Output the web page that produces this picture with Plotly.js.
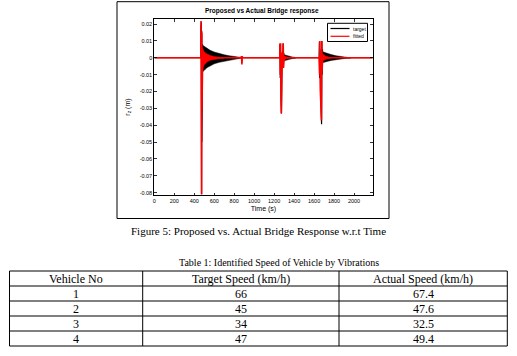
<!DOCTYPE html>
<html>
<head>
<meta charset="utf-8">
<script src="https://cdn.plot.ly/plotly-3.0.1.min.js"></script>
<style>html,body{margin:0;padding:0;background:#fff;}#chart{width:517px;height:356px;}</style>
</head>
<body>
<div id="chart"></div>
<script>
// ---- Chart data ----
// target (black) spikes / baseline
const targetT = [0, 465, 467, 469, 471, 473, 475, 477, 479, 481, 483, 485,
  870, 873, 876, 879, 882,
  1255, 1258, 1261, 1265, 1269, 1273, 1277, 1281, 1286, 1290, 1293, 1296, 1300,
  1650, 1653, 1656, 1660, 1665, 1670, 1675, 1678, 1681, 1684, 1688, 2187];
const targetV = [0, 0, 0.018, -0.078, 0.021, -0.081, 0.016, -0.05, 0.012, -0.02, 0.008, 0,
  0, 0.0008, -0.003, 0.0005, 0,
  0, 0.008, -0.012, 0.004, -0.025, -0.033, -0.012, 0.003, -0.006, 0.0085, -0.005, 0.003, 0,
  0, 0.0095, -0.012, 0.005, -0.02, -0.03, -0.0394, 0.0099, -0.01, 0.005, 0, 0];
// target decaying oscillation envelopes
const tBand1T = [483, 495, 510, 530, 560, 600, 650, 700, 750, 800, 840, 870];
const tBand1Up = [0.0075, 0.0070, 0.0062, 0.0054, 0.0044, 0.0034, 0.0025, 0.0018, 0.0012, 0.0008, 0.0005, 0.0002];
const tBand1Lo = [-0.0085, -0.0078, -0.0068, -0.0058, -0.0047, -0.0036, -0.0027, -0.0019, -0.0013, -0.0009, -0.0005, -0.0002];
const tBand2T = [1300, 1320, 1350, 1380, 1420];
const tBand2Up = [0.0018, 0.0014, 0.0009, 0.0005, 0.0001];
const tBand2Lo = [-0.0018, -0.0014, -0.0009, -0.0005, -0.0001];
const tBand3T = [1684, 1700, 1730, 1770, 1820, 1870, 1920, 1970];
const tBand3Up = [0.0036, 0.0032, 0.0026, 0.0019, 0.0012, 0.0007, 0.0004, 0.0001];
const tBand3Lo = [-0.0030, -0.0027, -0.0022, -0.0016, -0.0010, -0.0006, -0.0003, -0.0001];

// fitted (red) spikes / baseline
const fittedT = [0, 466, 468, 470, 472, 474, 476, 478, 480, 482, 484,
  871, 874, 877, 880, 883,
  1256, 1259, 1262, 1265, 1268, 1272, 1276, 1280, 1285, 1291, 1294, 1297, 1300,
  1650, 1652, 1655, 1658, 1663, 1668, 1674, 1677, 1680, 1683, 1686, 2187];
const fittedV = [0, 0, 0.0218, -0.081, 0.0215, -0.081, 0.015, -0.03, 0.006, -0.004, 0,
  0, 0.001, -0.004, 0.001, 0,
  0, 0.0086, -0.01, 0.0086, -0.02, -0.0331, -0.015, 0.003, -0.004, 0.0086, -0.006, 0.0086, 0,
  0, 0.0099, -0.01, 0.0099, -0.02, -0.03, -0.037, 0.0099, -0.008, 0.0099, 0, 0];
const fBand1T = [480, 490, 500, 515, 535, 560, 600, 650, 700];
const fBand1Up = [0.006, 0.0045, 0.0036, 0.0027, 0.0019, 0.0013, 0.0008, 0.0004, 0.0002];
const fBand1Lo = [-0.0075, -0.0055, -0.0042, -0.0031, -0.0022, -0.0015, -0.0009, -0.0005, -0.0002];
const fBand2T = [1298, 1310, 1330, 1360];
const fBand2Up = [0.0012, 0.0008, 0.0004, 0.0001];
const fBand2Lo = [-0.0012, -0.0008, -0.0004, -0.0001];
const fBand3T = [1682, 1695, 1715, 1740, 1770];
const fBand3Up = [0.0025, 0.0018, 0.0011, 0.0006, 0.0002];
const fBand3Lo = [-0.0022, -0.0015, -0.0010, -0.0005, -0.0002];

// axis ticks
const xTicks = [0, 200, 400, 600, 800, 1000, 1200, 1400, 1600, 1800, 2000];
const yTicks = [0.02, 0.01, 0, -0.01, -0.02, -0.03, -0.04, -0.05, -0.06, -0.07, -0.08];
const yTickText = ["0.02", "0.01", "0", "-0.01", "-0.02", "-0.03", "-0.04", "-0.05", "-0.06", "-0.07", "-0.08"];
const seriesNames = ["target", "fitted"];
const seriesColors = ["#000000", "#ff0000"];

// ---- Table data ----
const tableHeader = ["Vehicle No", "Target Speed (km/h)", "Actual Speed (km/h)"];
const vehicleNo = ["1", "2", "3", "4"];
const targetSpeed = ["66", "45", "34", "47"];
const actualSpeed = ["67.4", "47.6", "32.5", "49.4"];

// ---- build ----
const W = 517, H = 356;
function px(x) { return x / W; }
function py(y) { return 1 - y / H; }
function band(T, up, lo, color) {
  return {
    x: T.concat(T.slice().reverse()),
    y: up.concat(lo.slice().reverse()),
    type: 'scatter', mode: 'lines', fill: 'toself',
    fillcolor: color, line: {color: color, width: 0.5},
    showlegend: false, hoverinfo: 'skip'
  };
}
const traces = [
  {x: targetT, y: targetV, type: 'scatter', mode: 'lines', name: seriesNames[0], line: {color: seriesColors[0], width: 1.2}},
  band(tBand1T, tBand1Up, tBand1Lo, seriesColors[0]),
  band(tBand2T, tBand2Up, tBand2Lo, seriesColors[0]),
  band(tBand3T, tBand3Up, tBand3Lo, seriesColors[0]),
  {x: fittedT, y: fittedV, type: 'scatter', mode: 'lines', name: seriesNames[1], line: {color: seriesColors[1], width: 1.6}},
  band(fBand1T, fBand1Up, fBand1Lo, seriesColors[1]),
  band(fBand2T, fBand2Up, fBand2Lo, seriesColors[1]),
  band(fBand3T, fBand3Up, fBand3Lo, seriesColors[1])
];

const sans = 'Liberation Sans, Arial, sans-serif';
const serif = 'Liberation Serif, Times New Roman, serif';
const axisFont = {family: sans, size: 5.5, color: '#000'};
const shapes = [
  {type: 'rect', xref: 'paper', yref: 'paper', x0: px(117), x1: px(389), y0: py(218.5), y1: py(1.7),
   line: {color: '#000', width: 1}, fillcolor: 'rgba(0,0,0,0)'}
];
const annotations = [
  {text: '<b>Proposed vs Actual Bridge response</b>', xref: 'paper', yref: 'paper', x: px(262), y: py(11),
   xanchor: 'center', yanchor: 'middle', showarrow: false, font: {size: 6.5, family: sans, color: '#000'}},
  {text: 'Figure 5: Proposed vs. Actual Bridge Response w.r.t Time', xref: 'paper', yref: 'paper', x: px(258), y: py(231),
   xanchor: 'center', yanchor: 'middle', showarrow: false, font: {size: 11, family: serif, color: '#000'}},
  {text: 'Table 1: Identified Speed of Vehicle by Vibrations', xref: 'paper', yref: 'paper', x: px(278.5), y: py(262.5),
   xanchor: 'center', yanchor: 'middle', showarrow: false, font: {size: 10, family: serif, color: '#000'}}
];

// legend box (compact, MATLAB style)
const lgX0 = 327.5, lgX1 = 367.5, lgY0 = 23.3, lgY1 = 41.5;
shapes.push({type: 'rect', xref: 'paper', yref: 'paper', x0: px(lgX0), x1: px(lgX1), y0: py(lgY1), y1: py(lgY0),
  line: {color: '#000', width: 1}, fillcolor: '#ffffff'});
seriesNames.forEach((nm, i) => {
  const yy = 28.5 + i * 7.8;
  shapes.push({type: 'line', xref: 'paper', yref: 'paper', x0: px(330.5), x1: px(349.5), y0: py(yy), y1: py(yy),
    line: {color: seriesColors[i], width: 1.2}});
  annotations.push({text: nm, xref: 'paper', yref: 'paper', x: px(350.5), y: py(yy), xanchor: 'left', yanchor: 'middle',
    showarrow: false, font: {size: 5, family: sans, color: '#000'}});
});

// table built from the table arrays
const colEdges = [9.5, 142.7, 339, 507.3];
const rowTop = 271, rowH = 15;
const tableCols = [vehicleNo, targetSpeed, actualSpeed];
const nRows = vehicleNo.length + 1;
const tableBottom = rowTop + nRows * rowH;
for (let r = 0; r <= nRows; r++) {
  const yy = rowTop + r * rowH;
  shapes.push({type: 'line', xref: 'paper', yref: 'paper', x0: px(colEdges[0]), x1: px(colEdges[3]), y0: py(yy), y1: py(yy),
    line: {color: '#000', width: 1}});
}
colEdges.forEach(xx => {
  shapes.push({type: 'line', xref: 'paper', yref: 'paper', x0: px(xx), x1: px(xx), y0: py(rowTop), y1: py(tableBottom),
    line: {color: '#000', width: 1}});
});
tableHeader.forEach((h, c) => {
  const cx = (colEdges[c] + colEdges[c + 1]) / 2;
  annotations.push({text: h, xref: 'paper', yref: 'paper', x: px(cx), y: py(rowTop + rowH / 2), xanchor: 'center', yanchor: 'middle',
    showarrow: false, font: {size: 12, family: serif, color: '#000'}});
  tableCols[c].forEach((v, r) => {
    annotations.push({text: v, xref: 'paper', yref: 'paper', x: px(cx), y: py(rowTop + (r + 1.5) * rowH), xanchor: 'center', yanchor: 'middle',
      showarrow: false, font: {size: 12, family: serif, color: '#000'}});
  });
});

const layout = {
  width: W, height: H,
  margin: {l: 0, r: 0, t: 0, b: 0},
  paper_bgcolor: '#ffffff', plot_bgcolor: '#ffffff',
  showlegend: false,
  font: {family: sans, color: '#000'},
  xaxis: {
    domain: [px(154.3), px(372.7)], range: [0, 2187],
    tickvals: xTicks, ticks: 'inside', ticklen: 2.5, tickwidth: 0.8, tickcolor: '#000',
    showline: true, linecolor: '#000', linewidth: 1, mirror: 'ticks',
    showgrid: false, zeroline: false, tickfont: axisFont,
    title: {text: 'Time (s)', font: {size: 7, family: sans}, standoff: 3}
  },
  yaxis: {
    domain: [py(195), py(19)], range: [-0.0814, 0.0230],
    tickvals: yTicks, ticktext: yTickText, ticks: 'inside', ticklen: 2.5, tickwidth: 0.8, tickcolor: '#000',
    showline: true, linecolor: '#000', linewidth: 1, mirror: 'ticks',
    showgrid: false, zeroline: false, tickfont: axisFont,
    title: {text: 'r<sub>z</sub> (m)', font: {size: 7, family: sans}, standoff: 8}
  },
  shapes: shapes,
  annotations: annotations
};
Plotly.newPlot('chart', traces, layout, {staticPlot: true, displayModeBar: false});
</script>
</body>
</html>
